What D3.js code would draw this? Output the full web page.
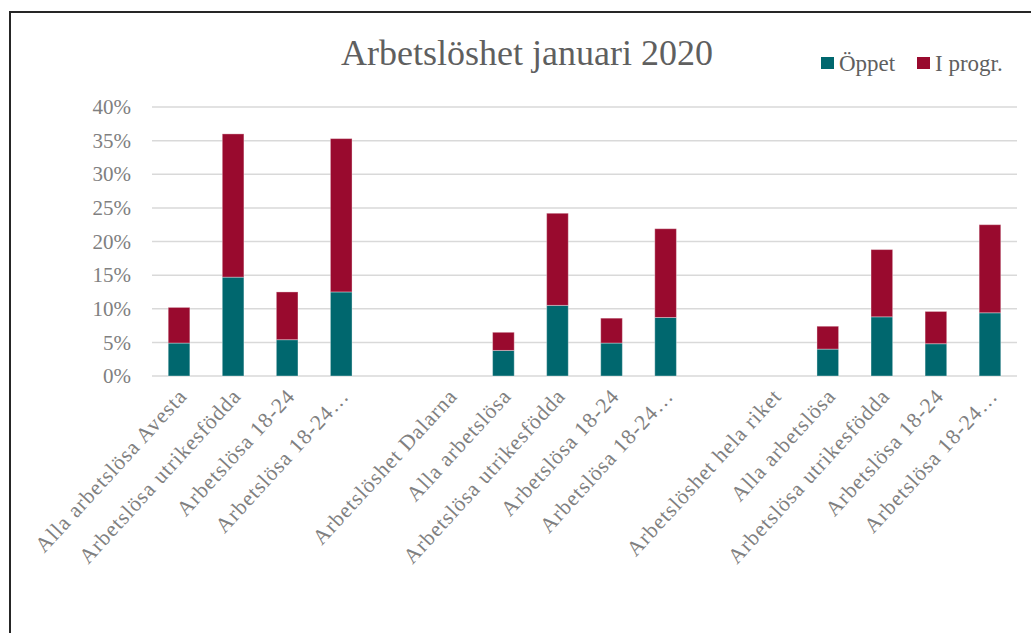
<!DOCTYPE html>
<html><head><meta charset="utf-8">
<script src="https://cdn.jsdelivr.net/npm/d3@7/dist/d3.min.js"></script>
<style>body{margin:0;background:#fff;}svg{display:block;}</style>
</head><body>
<svg id="chart" width="1031" height="633"></svg>
<script>
const categories = [
  "Alla arbetslösa Avesta","Arbetslösa utrikesfödda","Arbetslösa 18-24","Arbetslösa 18-24…",
  "","Arbetslöshet Dalarna",
  "Alla arbetslösa","Arbetslösa utrikesfödda","Arbetslösa 18-24","Arbetslösa 18-24…",
  "","Arbetslöshet hela riket",
  "Alla arbetslösa","Arbetslösa utrikesfödda","Arbetslösa 18-24","Arbetslösa 18-24…"
];
const oppet  = [4.9,14.7,5.4,12.5, null,null, 3.8,10.5,4.9,8.7, null,null, 4.0,8.8,4.8,9.4];
const iprogr = [5.3,21.3,7.1,22.8, null,null, 2.7,13.7,3.7,13.2, null,null, 3.4,10.0,4.8,13.1];
const seriesNames = ["Öppet","I progr."];
const colors = ["#00676e","#990a2e"];
const yTicks = [0,5,10,15,20,25,30,35,40];
const title = "Arbetslöshet januari 2020";

const svg = d3.select("#chart");
const font = "'Liberation Serif', 'DejaVu Serif', serif";
const margin = {left:152, right:14, top:107, bottom:257};
const W = 1031, H = 633;

// frame
svg.append("path").attr("d","M10,640 L10,12 L1040,12").attr("fill","none")
  .attr("stroke","#262626").attr("stroke-width",2);

const x = d3.scaleBand().domain(d3.range(categories.length))
  .range([margin.left, W - margin.right]).paddingInner(0.6).paddingOuter(0.3);
const y = d3.scaleLinear().domain([0,40]).range([H - margin.bottom, margin.top]);

// grid
svg.append("g").selectAll("line").data(yTicks).join("line")
  .attr("x1", margin.left).attr("x2", W - margin.right)
  .attr("y1", d=>y(d)).attr("y2", d=>y(d))
  .attr("stroke","#d9d9d9").attr("stroke-width",1.5);

// y axis labels
const yAxis = d3.axisLeft(y).tickValues(yTicks).tickFormat(d=>d+"%").tickSize(0).tickPadding(21);
const ga = svg.append("g").attr("transform",`translate(${margin.left},0)`).call(yAxis);
ga.select(".domain").remove();
ga.selectAll("text").attr("font-family",font).attr("font-size",21).attr("fill","#808080");

// stacked data
const rows = categories.map((c,i)=>({i, a: oppet[i], b: iprogr[i]}));
const stack = d3.stack().keys(["a","b"]).value((d,k)=>d[k]||0)(rows);
stack.forEach((s,si)=>{
  svg.append("g").selectAll("rect").data(s.filter(d=>d.data.a!=null)).join("rect")
    .attr("x", d=>x(d.data.i)).attr("width", x.bandwidth())
    .attr("y", d=>y(d[1])).attr("height", d=>y(d[0])-y(d[1]))
    .attr("fill", colors[si]).attr("stroke","#ffffff").attr("stroke-opacity",0.35).attr("stroke-width",1);
});

// x labels
const xAxis = d3.axisBottom(x).tickFormat(i=>categories[i]).tickSize(0).tickPadding(0);
const gx = svg.append("g").attr("transform",`translate(0,${y(0)})`).call(xAxis);
gx.select(".domain").remove();
gx.selectAll("text").attr("font-family",font).attr("font-size",21.5).attr("fill","#808080")
  .attr("letter-spacing","1px")
  .attr("text-anchor","end").attr("dy",0)
  .attr("transform","translate(9,21) rotate(-47.5)");

// title
svg.append("text").attr("x",527).attr("y",65).attr("text-anchor","middle")
  .attr("font-family",font).attr("font-size",36).attr("fill","#5f5f5f").text(title);

// legend
const leg = [{x:821},{x:917}];
seriesNames.forEach((n,i)=>{
  svg.append("rect").attr("x",leg[i].x).attr("y",57).attr("width",13).attr("height",12).attr("fill",colors[i]);
  svg.append("text").attr("x",leg[i].x+18).attr("y",71).attr("font-family",font)
    .attr("font-size",23).attr("fill","#5f5f5f").text(n);
});
</script>
</body></html>
